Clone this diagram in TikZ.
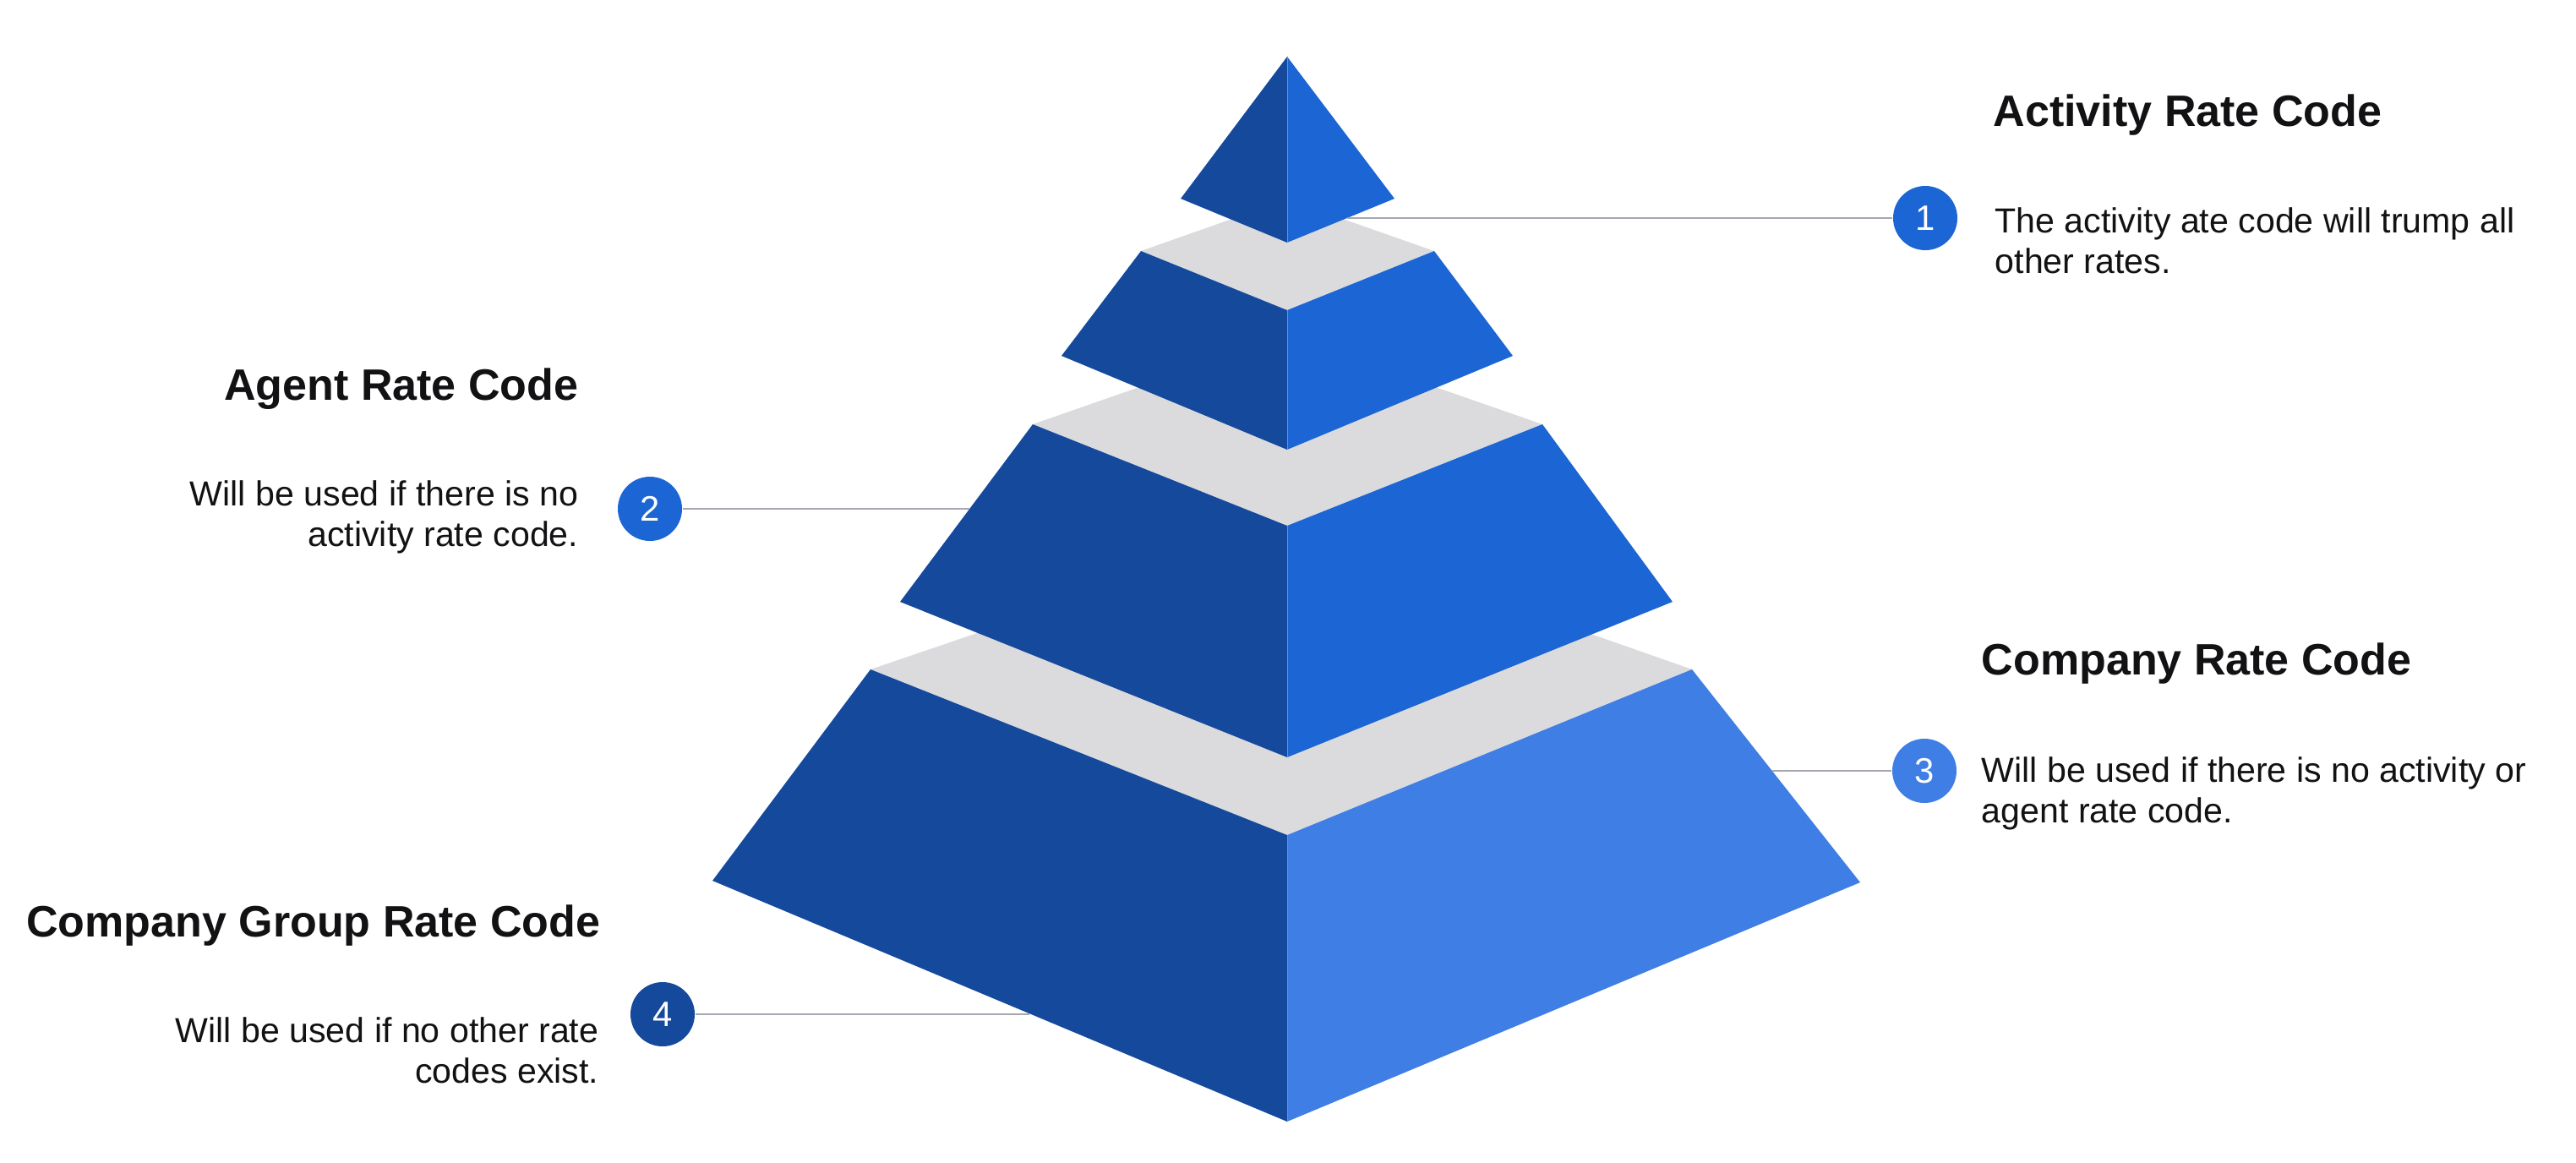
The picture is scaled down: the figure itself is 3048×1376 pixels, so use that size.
\documentclass[tikz,border=0pt]{standalone}
\usepackage{fontspec}
\setmainfont{Liberation Sans}
\usepackage{tikz}
\definecolor{S}{RGB}{21,73,156}
\definecolor{B}{RGB}{27,101,212}
\definecolor{P}{RGB}{63,126,228}
\definecolor{G}{RGB}{219,219,221}
\definecolor{N}{RGB}{165,167,178}
\definecolor{R}{RGB}{95,145,228}
\definecolor{K}{RGB}{18,18,20}
\newcommand{\tier}[8]{
    \fill[G] (#1)--(#2)--(#3)--(#4)--cycle;
    \fill[S] (#1)--(#4)--(#6)--(#5)--cycle;
    \fill[#8] (#4)--(#3)--(#7)--(#6)--cycle;
    \draw[ridge] (#4)--(#6);
}
\tikzset{
  ridge/.style={draw=R, line width=0.1mm},
  leader/.style={draw=N, line width=0.13mm},
  num/.style={circle, minimum size=7.6mm, inner sep=0pt, text=white, font=\fontsize{11.9}{14}\selectfont},
  head/.style={inner sep=0pt, text=K, font=\bfseries\fontsize{14.8}{17}\selectfont},
  note/.style={inner sep=0pt, text=K, font=\fontsize{11.7}{13.65}\selectfont}
}
\begin{document}
\begin{tikzpicture}[x=0.1mm, y=-0.1mm]
\useasboundingbox (0,0) rectangle (3048,1376);
\fill[white] (0,0) rectangle (3048,1376);
\tier{1030,792}{1523,624}{2002,792}{1523,988}{843,1042}{1523,1327}{2201,1044}{P}
\tier{1222,502}{1523,397}{1825,502}{1523,622}{1065,712}{1523,896}{1979,712}{B}
\tier{1350,297}{1523,236}{1697,297}{1523,367}{1256,421}{1523,532}{1790,421}{B}
\fill[S] (1523,67)--(1397,235)--(1523,287)--cycle;
\fill[B] (1523,67)--(1650,235)--(1523,287)--cycle;
\draw[ridge] (1523,67)--(1523,287);
\coordinate (e1) at (1594,258);
\coordinate (e2) at (1147,602);
\coordinate (e3) at (2097,912);
\coordinate (e4) at (1218,1200);
\node[num, fill=B] (n1) at (2278,258) {1};
\node[num, fill=B] (n2) at (769,602) {2};
\node[num, fill=P] (n3) at (2277,912) {3};
\node[num, fill=S] (n4) at (784,1200) {4};
\draw[leader] (n1)--(e1);
\draw[leader] (n2)--(e2);
\draw[leader] (n3)--(e3);
\draw[leader] (n4)--(e4);
\node[head, anchor=base west] (t1) at (2358,150) {Activity Rate Code};
\node[note, anchor=north west, align=left] (d1) at (2360,245) {The activity ate code will trump all\\other rates.};
\node[head, anchor=base east] (t2) at (685,473) {Agent Rate Code};
\node[note, anchor=north east, align=right] (d2) at (685,568) {Will be used if there is no\\activity rate code.};
\node[head, anchor=base west] (t3) at (2344,798) {Company Rate Code};
\node[note, anchor=north west, align=left] (d3) at (2344,895) {Will be used if there is no activity or\\agent rate code.};
\node[head, anchor=base east] (t4) at (711,1108) {Company Group Rate Code};
\node[note, anchor=north east, align=right] (d4) at (709,1203) {Will be used if no other rate\\codes exist.};
\end{tikzpicture}
\end{document}
